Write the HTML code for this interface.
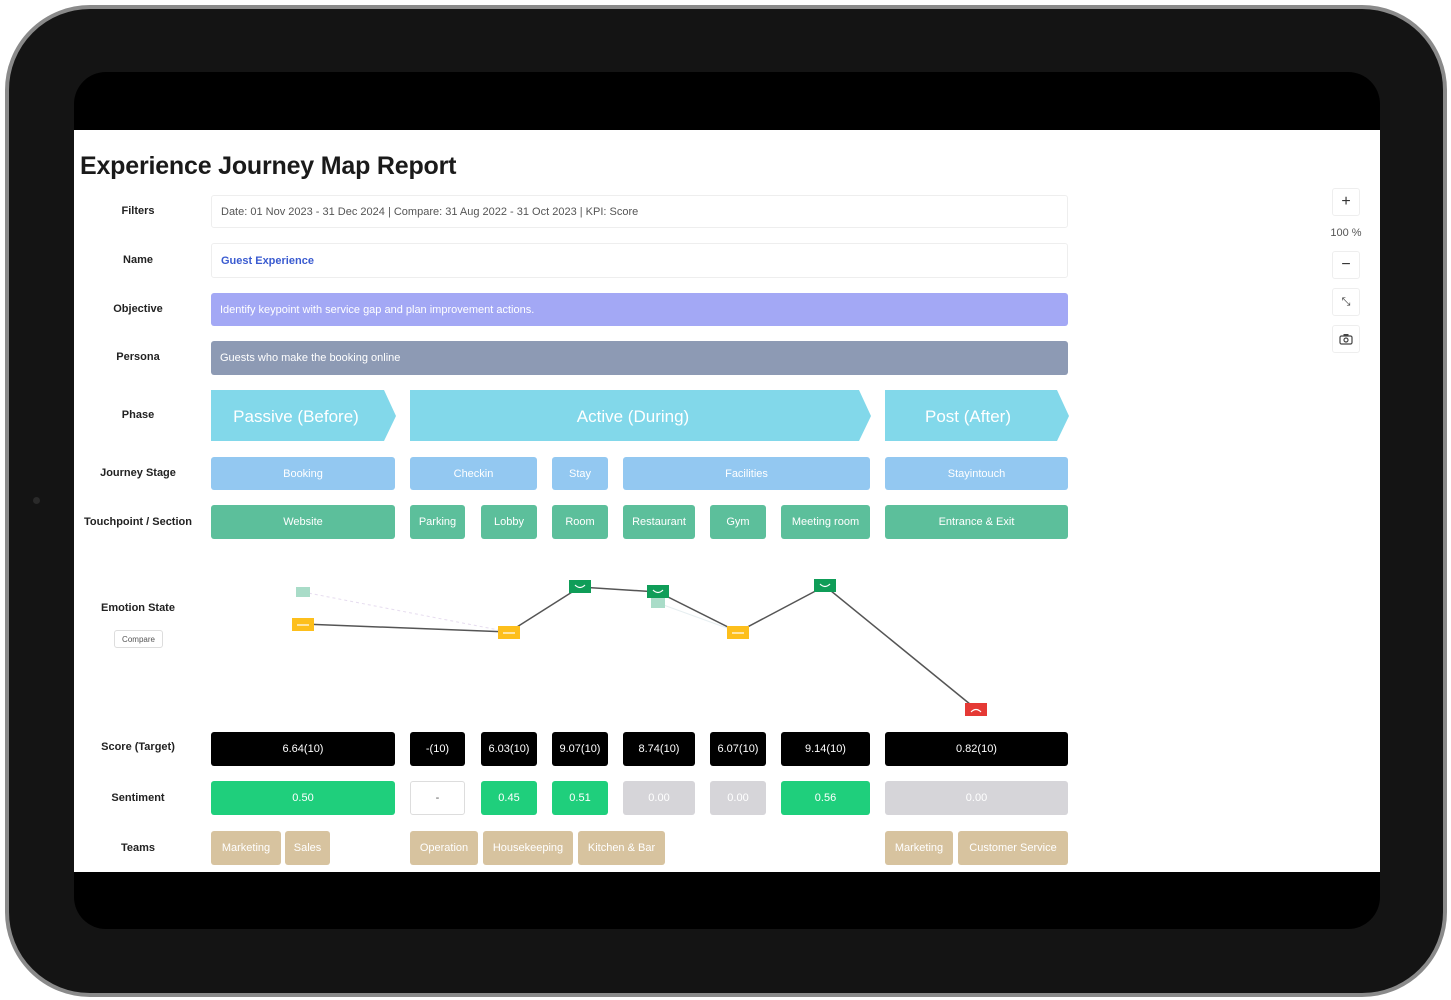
<!DOCTYPE html>
<html><head><meta charset="utf-8"><style>
*{box-sizing:border-box;margin:0;padding:0}
body{width:1451px;height:1000px;background:#fff;position:relative;overflow:hidden;font-family:"Liberation Sans",sans-serif}
.a{position:absolute}
.dev{left:5px;top:5px;width:1442px;height:992px;border-radius:85px;background:#141414;border:4px solid #8a8a8a}
.scr{left:74px;top:72px;width:1306px;height:857px;border-radius:32px;background:#000}
.wh{left:74px;top:130px;width:1306px;height:742px;background:#fff}
.lbl{font-size:11px;font-weight:bold;color:#222;width:140px;left:68px;text-align:center}
.b{position:absolute;border-radius:3px;display:flex;align-items:center;justify-content:center;font-size:11px;color:#fff}
.in{border:1px solid #eee;justify-content:flex-start;padding-left:9px;color:#555}
.zb{position:absolute;left:1332px;width:28px;height:28px;border:1px solid #eee;border-radius:3px;display:flex;align-items:center;justify-content:center;font-size:16px;color:#333;background:#fff}
</style></head><body>
<div class="a dev"></div>
<div class="a scr"></div>
<div class="a wh"></div>
<div class="a" style="left:80px;top:152px;font-size:25px;letter-spacing:-0.2px;font-weight:bold;color:#1a1a1a">Experience Journey Map Report</div>

<div class="a lbl" style="top:205px">Filters</div>
<div class="a lbl" style="top:254px">Name</div>
<div class="a lbl" style="top:303px">Objective</div>
<div class="a lbl" style="top:351px">Persona</div>
<div class="a lbl" style="top:409px">Phase</div>
<div class="a lbl" style="top:467px">Journey Stage</div>
<div class="a lbl" style="top:516px">Touchpoint / Section</div>
<div class="a lbl" style="top:602px">Emotion State</div>
<div class="b" style="left:114px;top:630px;width:49px;height:18px;border:1px solid #ddd;color:#555;font-size:8px">Compare</div>
<div class="a lbl" style="top:741px">Score (Target)</div>
<div class="a lbl" style="top:792px">Sentiment</div>
<div class="a lbl" style="top:842px">Teams</div>

<div class="b in" style="left:211px;top:195px;width:857px;height:33px">Date: 01 Nov 2023 - 31 Dec 2024 | Compare: 31 Aug 2022 - 31 Oct 2023 | KPI: Score</div>
<div class="b in" style="left:211px;top:243px;width:857px;height:35px;color:#3a5bd0;font-weight:bold">Guest Experience</div>
<div class="b in" style="left:211px;top:293px;width:857px;height:33px;background:#a3a8f5;border:none;color:#fff">Identify keypoint with service gap and plan improvement actions.</div>
<div class="b in" style="left:211px;top:341px;width:857px;height:34px;background:#8d9ab4;border:none;color:#fff">Guests who make the booking online</div>

<svg class="a" style="left:0;top:0" width="1451" height="1000">
<g fill="#82d8ea">
<polygon points="211,390 384,390 396,416 384,441 211,441"/>
<polygon points="410,390 859,390 871,416 859,441 410,441"/>
<polygon points="885,390 1057,390 1069,416 1057,441 885,441"/>
</g>
<g fill="#fff" font-family="Liberation Sans" font-size="17" text-anchor="middle">
<text x="296" y="422">Passive (Before)</text>
<text x="633" y="422">Active (During)</text>
<text x="968" y="422">Post (After)</text>
</g>
<polyline points="303,592 509,632" fill="none" stroke="#e6dcef" stroke-width="1" stroke-dasharray="3,3"/>
<polyline points="658,603 738,632" fill="none" stroke="#e6eef0" stroke-width="1"/>
<polyline points="303,624 509,632 580,587 658,592 738,632 825,586 976,709" fill="none" stroke="#555" stroke-width="1.5"/>
<rect x="296" y="587" width="14" height="10" fill="#a9dcc8"/>
<rect x="651" y="598" width="14" height="10" fill="#a9dcc8"/>
<g fill="#fdbf1c"><rect x="292" y="618" width="22" height="13"/><rect x="498" y="626" width="22" height="13"/><rect x="727" y="626" width="22" height="13"/></g>
<g fill="#0f9d58"><rect x="569" y="580" width="22" height="13"/><rect x="647" y="585" width="22" height="13"/><rect x="814" y="579" width="22" height="13"/></g>
<rect x="965" y="703" width="22" height="13" fill="#e53935"/>
<g stroke="#fff" stroke-width="1.2" fill="none">
<line x1="297" y1="625" x2="309" y2="625"/><line x1="503" y1="633" x2="515" y2="633"/><line x1="732" y1="633" x2="744" y2="633"/>
<path d="M575 585 q5 5 10 0"/><path d="M653 590 q5 5 10 0"/><path d="M820 584 q5 5 10 0"/>
<path d="M971 712 q5 -5 10 0"/>
</g>
</svg>

<div class="b" style="left:211px;top:457px;width:184px;height:33px;background:#93c8f1">Booking</div>
<div class="b" style="left:410px;top:457px;width:127px;height:33px;background:#93c8f1">Checkin</div>
<div class="b" style="left:552px;top:457px;width:56px;height:33px;background:#93c8f1">Stay</div>
<div class="b" style="left:623px;top:457px;width:247px;height:33px;background:#93c8f1">Facilities</div>
<div class="b" style="left:885px;top:457px;width:183px;height:33px;background:#93c8f1">Stayintouch</div>

<div class="b" style="left:211px;top:505px;width:184px;height:34px;background:#5cbf9b">Website</div>
<div class="b" style="left:410px;top:505px;width:55px;height:34px;background:#5cbf9b">Parking</div>
<div class="b" style="left:481px;top:505px;width:56px;height:34px;background:#5cbf9b">Lobby</div>
<div class="b" style="left:552px;top:505px;width:56px;height:34px;background:#5cbf9b">Room</div>
<div class="b" style="left:623px;top:505px;width:72px;height:34px;background:#5cbf9b">Restaurant</div>
<div class="b" style="left:710px;top:505px;width:56px;height:34px;background:#5cbf9b">Gym</div>
<div class="b" style="left:781px;top:505px;width:89px;height:34px;background:#5cbf9b">Meeting room</div>
<div class="b" style="left:885px;top:505px;width:183px;height:34px;background:#5cbf9b">Entrance &amp; Exit</div>

<div class="b" style="left:211px;top:732px;width:184px;height:34px;background:#000">6.64(10)</div>
<div class="b" style="left:410px;top:732px;width:55px;height:34px;background:#000">-(10)</div>
<div class="b" style="left:481px;top:732px;width:56px;height:34px;background:#000">6.03(10)</div>
<div class="b" style="left:552px;top:732px;width:56px;height:34px;background:#000">9.07(10)</div>
<div class="b" style="left:623px;top:732px;width:72px;height:34px;background:#000">8.74(10)</div>
<div class="b" style="left:710px;top:732px;width:56px;height:34px;background:#000">6.07(10)</div>
<div class="b" style="left:781px;top:732px;width:89px;height:34px;background:#000">9.14(10)</div>
<div class="b" style="left:885px;top:732px;width:183px;height:34px;background:#000">0.82(10)</div>

<div class="b" style="left:211px;top:781px;width:184px;height:34px;background:#1fcf7c">0.50</div>
<div class="b" style="left:410px;top:781px;width:55px;height:34px;border:1px solid #ddd;color:#555">-</div>
<div class="b" style="left:481px;top:781px;width:56px;height:34px;background:#1fcf7c">0.45</div>
<div class="b" style="left:552px;top:781px;width:56px;height:34px;background:#1fcf7c">0.51</div>
<div class="b" style="left:623px;top:781px;width:72px;height:34px;background:#d6d5d9">0.00</div>
<div class="b" style="left:710px;top:781px;width:56px;height:34px;background:#d6d5d9">0.00</div>
<div class="b" style="left:781px;top:781px;width:89px;height:34px;background:#1fcf7c">0.56</div>
<div class="b" style="left:885px;top:781px;width:183px;height:34px;background:#d6d5d9">0.00</div>

<div class="b" style="left:211px;top:831px;width:70px;height:34px;background:#d7c39f">Marketing</div>
<div class="b" style="left:285px;top:831px;width:45px;height:34px;background:#d7c39f">Sales</div>
<div class="b" style="left:410px;top:831px;width:68px;height:34px;background:#d7c39f">Operation</div>
<div class="b" style="left:483px;top:831px;width:90px;height:34px;background:#d7c39f">Housekeeping</div>
<div class="b" style="left:578px;top:831px;width:87px;height:34px;background:#d7c39f">Kitchen &amp; Bar</div>
<div class="b" style="left:885px;top:831px;width:68px;height:34px;background:#d7c39f">Marketing</div>
<div class="b" style="left:958px;top:831px;width:110px;height:34px;background:#d7c39f">Customer Service</div>

<div class="zb" style="top:188px">+</div>
<div class="a" style="left:1326px;top:227px;width:40px;text-align:center;font-size:11px;color:#555">100 %</div>
<div class="zb" style="top:251px">−</div>
<div class="zb" style="top:288px;font-size:11px">⤡</div>
<div class="zb" style="top:325px"><svg width="14" height="12"><rect x="1" y="3" width="12" height="8" rx="1.5" fill="none" stroke="#444" stroke-width="1.2"/><rect x="4.5" y="1" width="5" height="2" fill="#444"/><circle cx="7" cy="7" r="2" fill="none" stroke="#444" stroke-width="1.2"/></svg></div>
<div class="a" style="left:33px;top:497px;width:7px;height:7px;border-radius:50%;background:#2a2a2a"></div>
</body></html>
